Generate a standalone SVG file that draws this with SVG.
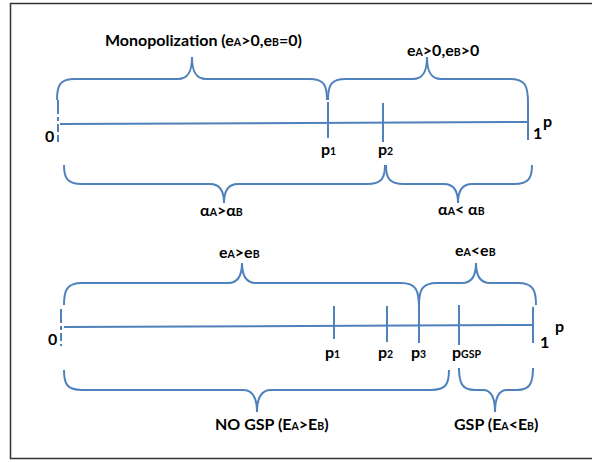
<svg xmlns="http://www.w3.org/2000/svg" width="592" height="462" viewBox="0 0 592 462">
<style>
.ln{fill:none;stroke:#4F81BD;stroke-width:2;stroke-linecap:butt}
.dash{fill:none;stroke:#4F81BD;stroke-width:2;stroke-dasharray:14 3 4 3 8 3}
.t{font-family:Lato,"Liberation Sans",sans-serif;font-weight:bold;font-size:16px;fill:#000}
.s{font-size:10.5px}
</style>
<rect x="10.5" y="3.5" width="600" height="455" fill="#fff" stroke="#333" stroke-width="1.5"/>

<g id="top-axis">
  <line class="ln" x1="60" y1="124" x2="527" y2="122"/>
  <line class="dash" x1="58" y1="100" x2="58" y2="142"/>
  <line class="ln" x1="328" y1="102" x2="328" y2="138"/>
  <line class="ln" x1="383" y1="103" x2="383" y2="142"/>
  <line class="ln" x1="528" y1="103" x2="528" y2="140"/>
  <text class="t" x="45" y="142">0</text>
  <text class="t" x="533" y="139">1</text>
  <text class="t" x="543" y="127">p</text>
  <text class="t" x="321" y="155">p<tspan class="s">1</tspan></text>
  <text class="t" x="378" y="155">p<tspan class="s">2</tspan></text>
</g>

<g id="connectors">
  <path class="ln" d="M57,100 C57,85 60,79 75,79 L178,79 C188,79 192,72 192,57 C192,72 196,79 206,79 L309,79 C324,79 327,85 327,100"/>
  <path class="ln" d="M328,100 C328,85 331,79 346,79 L413,79 C423,79 427,72 427,57 C427,72 431,79 441,79 L510,79 C525,79 528,85 528,103"/>
  <path class="ln" d="M64,165 C64,178 67,184 82,184 L210,184 C220,184 224,191 224,203 C224,191 228,184 238,184 L367,184 C382,184 385,178 385,165"/>
  <path class="ln" d="M386,165 C386,178 389,184 404,184 L444,184 C454,184 458,191 458,203 C458,191 462,184 472,184 L514,184 C529,184 532,178 532,165"/>
  <path class="ln" d="M64,305 C64,290 67,283 82,283 L228,283 C238,283 242,276 242,263 C242,276 246,283 256,283 L401,283 C416,283 419,290 419,308"/>
  <path class="ln" d="M419,305 C419,290 422,283 437,283 L462,283 C472,283 476,276 476,263 C476,276 480,283 490,283 L518,283 C533,283 536,290 536,305"/>
  <path class="ln" d="M64,370 C64,384 67,390 82,390 L243,390 C253,390 257,398 257,412 C257,398 261,390 271,390 L431,390 C446,390 449,384 449,370"/>
  <path class="ln" d="M459,368 C459,383 462,390 475,390 L483,390 C492,390 495,398 495,412 C495,398 498,390 507,390 L517,390 C530,390 533,383 533,368"/>
</g>

<g id="bottom-axis">
  <line class="ln" x1="64" y1="327" x2="533" y2="325"/>
  <line class="dash" x1="61" y1="309" x2="61" y2="346"/>
  <line class="ln" x1="334" y1="306" x2="334" y2="339"/>
  <line class="ln" x1="387" y1="306" x2="387" y2="342"/>
  <line class="ln" x1="419" y1="306" x2="419" y2="343"/>
  <line class="ln" x1="459" y1="305" x2="459" y2="345"/>
  <line class="ln" x1="533" y1="307" x2="533" y2="343"/>
  <text class="t" x="48" y="345">0</text>
  <text class="t" x="540" y="348">1</text>
  <text class="t" x="555" y="332">p</text>
  <text class="t" x="325" y="358">p<tspan class="s">1</tspan></text>
  <text class="t" x="378" y="358">p<tspan class="s">2</tspan></text>
  <text class="t" x="411" y="358">p<tspan class="s">3</tspan></text>
  <text class="t" x="452" y="358">p<tspan class="s">GSP</tspan></text>
</g>

<g id="label-monopolization">
  <text class="t" x="105" y="46">Monopolization (e<tspan class="s">A</tspan>&gt;0,e<tspan class="s">B</tspan>=0)</text>
</g>
<g id="label-both-positive">
  <text class="t" x="407" y="56">e<tspan class="s">A</tspan>&gt;0,e<tspan class="s">B</tspan>&gt;0</text>
</g>
<g id="label-alpha-gt">
  <text class="t" x="200" y="216">α<tspan class="s">A</tspan>&gt;α<tspan class="s">B</tspan></text>
</g>
<g id="label-alpha-lt">
  <text class="t" x="438" y="215">α<tspan class="s">A</tspan>&lt; α<tspan class="s">B</tspan></text>
</g>
<g id="label-ea-gt-eb">
  <text class="t" x="219" y="258">e<tspan class="s">A</tspan>&gt;e<tspan class="s">B</tspan></text>
</g>
<g id="label-ea-lt-eb">
  <text class="t" x="455" y="256">e<tspan class="s">A</tspan>&lt;e<tspan class="s">B</tspan></text>
</g>
<g id="label-no-gsp">
  <text class="t" x="215" y="430">NO GSP (E<tspan class="s">A</tspan>&gt;E<tspan class="s">B</tspan>)</text>
</g>
<g id="label-gsp">
  <text class="t" x="454" y="430">GSP (E<tspan class="s">A</tspan>&lt;E<tspan class="s">B</tspan>)</text>
</g>
</svg>
